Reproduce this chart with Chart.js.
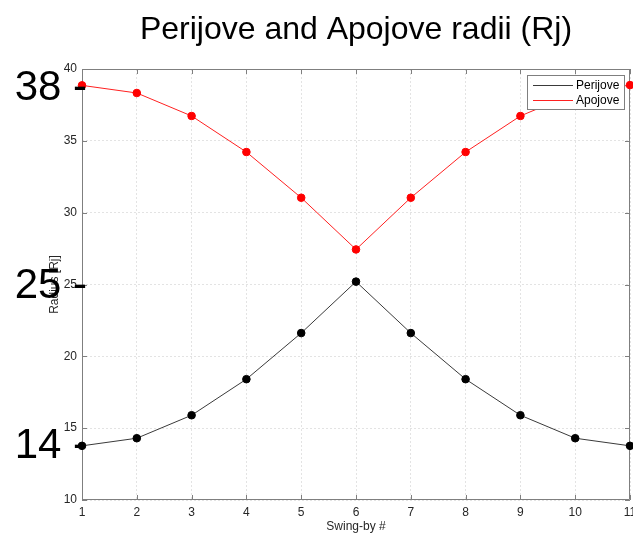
<!DOCTYPE html>
<html>
<head>
<meta charset="utf-8">
<script src="https://cdn.jsdelivr.net/npm/chart.js@4.4.1/dist/chart.umd.min.js"></script>
<style>
  html, body { margin: 0; padding: 0; background: #fff; }
  canvas { display: block; }
</style>
</head>
<body>
<canvas id="graph-canvas" width="633" height="534"></canvas>
<script>
const swingBy = [1, 2, 3, 4, 5, 6, 7, 8, 9, 10, 11];
const perijove = [13.77, 14.3, 15.9, 18.41, 21.62, 25.2, 21.62, 18.41, 15.9, 14.3, 13.77];
const apojove = [38.86, 38.33, 36.73, 34.22, 31.04, 27.44, 31.04, 34.22, 36.73, 38.33, 38.88];

// the big hand-added labels on the left, and the value where each dash sits
const markLabels = ['38', '25', '14'];
const markValues = [38.63, 24.84, 13.7];

const FONT = '"Liberation Sans", Arial, sans-serif';
const AXIS_COLOR = '#7f7f7f';

// MATLAB style box with ticks pointing in
const boxPlugin = {
  id: 'box',
  beforeDatasetsDraw(chart) {
    const { ctx, chartArea: a, scales } = chart;
    ctx.save();
    ctx.strokeStyle = AXIS_COLOR;
    ctx.lineWidth = 1;
    ctx.beginPath();
    ctx.rect(a.left + 0.5, a.top + 0.5, a.right - a.left - 1, a.bottom - a.top - 1);
    for (const v of swingBy) {
      const x = Math.round(scales.x.getPixelForValue(v)) + 0.5;
      ctx.moveTo(x, a.bottom); ctx.lineTo(x, a.bottom - 5);
      ctx.moveTo(x, a.top); ctx.lineTo(x, a.top + 5);
    }
    scales.y.ticks.forEach(t => {
      const y = Math.round(scales.y.getPixelForValue(t.value)) + 0.5;
      ctx.moveTo(a.left, y); ctx.lineTo(a.left + 5, y);
      ctx.moveTo(a.right, y); ctx.lineTo(a.right - 5, y);
    });
    ctx.stroke();
    ctx.restore();
  }
};

const overlayPlugin = {
  id: 'overlay',
  afterDraw(chart) {
    const { ctx, chartArea: a, scales } = chart;
    ctx.save();

    // legend box, top right inside the axes
    const w = 97, h = 34;
    const lx = a.right - 6 - w, ly = a.top + 6;
    ctx.fillStyle = '#fff';
    ctx.fillRect(lx, ly, w, h);
    ctx.strokeStyle = AXIS_COLOR;
    ctx.lineWidth = 1;
    ctx.strokeRect(lx + 0.5, ly + 0.5, w, h);
    ctx.font = '12px ' + FONT;
    ctx.textBaseline = 'middle';
    ctx.textAlign = 'left';
    chart.data.datasets.forEach((ds, i) => {
      const y = ly + 10 + i * 15;
      ctx.strokeStyle = ds.borderColor;
      ctx.beginPath();
      ctx.moveTo(lx + 6, y + 0.5);
      ctx.lineTo(lx + 46, y + 0.5);
      ctx.stroke();
      ctx.fillStyle = '#000';
      ctx.fillText(ds.label, lx + 49, y + 1);
    });

    // big labels with their dashes
    ctx.font = '42px ' + FONT;
    ctx.fillStyle = '#000';
    ctx.textAlign = 'right';
    ctx.textBaseline = 'alphabetic';
    markLabels.forEach((txt, i) => {
      const y = scales.y.getPixelForValue(markValues[i]);
      ctx.fillText(txt + ' -', 87, y + 11);
    });
    ctx.restore();
  }
};

const canvas = document.getElementById('graph-canvas');
const ctx = canvas.getContext('2d');

const chart = new Chart(ctx, {
  type: 'line',
  data: {
    datasets: [
      {
        label: 'Perijove',
        data: swingBy.map((x, i) => ({ x: x, y: perijove[i] })),
        borderColor: '#3a3a3a',
        borderWidth: 1,
        pointBackgroundColor: '#000',
        pointBorderColor: '#000',
        pointRadius: 3.8,
        clip: false
      },
      {
        label: 'Apojove',
        data: swingBy.map((x, i) => ({ x: x, y: apojove[i] })),
        borderColor: '#ff2020',
        borderWidth: 1,
        pointBackgroundColor: '#ff0000',
        pointBorderColor: '#ff0000',
        pointRadius: 3.8,
        clip: false
      }
    ]
  },
  options: {
    responsive: false,
    animation: false,
    layout: { autoPadding: false, padding: { left: 0, right: 3, top: 0, bottom: 0 } },
    plugins: {
      legend: { display: false },
      tooltip: { enabled: false },
      title: {
        display: true,
        text: 'Perijove and Apojove radii (Rj)',
        fullSize: false,
        color: '#000',
        font: { family: FONT, size: 32, weight: 'normal' },
        padding: { top: 11, bottom: 19.6 }
      }
    },
    scales: {
      x: {
        type: 'linear',
        min: 1,
        max: 11,
        afterFit(s) { s.height = 34; s.paddingLeft = 0; s.paddingRight = 0; },
        ticks: { stepSize: 1, padding: 5, color: '#262626', font: { family: FONT, size: 12 } },
        grid: { color: '#e3e3e3', drawTicks: false },
        border: { display: false, dash: [2, 2] },
        title: {
          display: true,
          text: 'Swing-by #',
          color: '#262626',
          font: { family: FONT, size: 12 },
          padding: { top: 0, bottom: 0 }
        }
      },
      y: {
        min: 10,
        max: 40,
        afterFit(s) { s.width = 82; },
        ticks: { stepSize: 5, padding: 5, color: '#262626', font: { family: FONT, size: 12 } },
        grid: { color: '#e3e3e3', drawTicks: false },
        border: { display: false, dash: [2, 2] },
        title: {
          display: true,
          text: 'Radius [Rj]',
          color: '#262626',
          font: { family: FONT, size: 12 },
          padding: { top: 47, bottom: 0 }
        }
      }
    }
  },
  plugins: [boxPlugin, overlayPlugin]
});
</script>
</body>
</html>
